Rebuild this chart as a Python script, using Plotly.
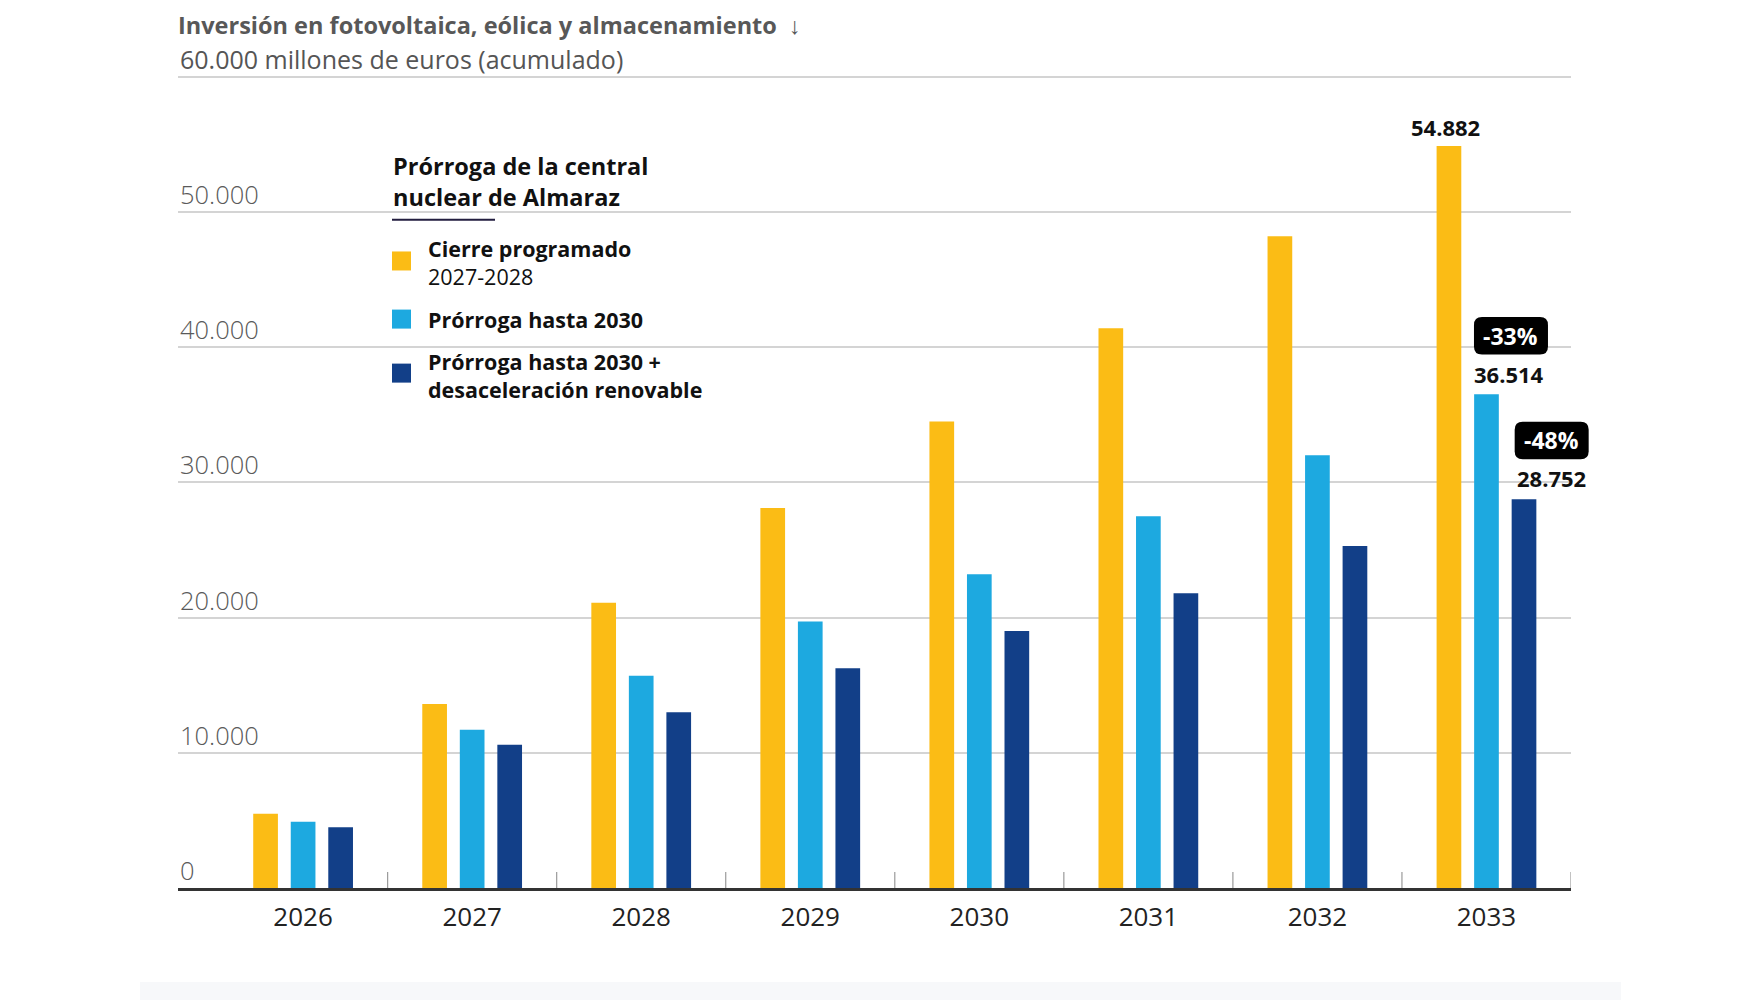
import plotly.graph_objects as go

# ---------------- data ----------------
years = ["2026", "2027", "2028", "2029", "2030", "2031", "2032", "2033"]
cierre = [5500, 13600, 21100, 28100, 34500, 41400, 48200, 54882]
prorroga = [4900, 11700, 15700, 19700, 23200, 27500, 32000, 36514]
desaceleracion = [4500, 10600, 13000, 16250, 19000, 21800, 25300, 28752]

series_values = [cierre, prorroga, desaceleracion]
series_names = ["Cierre programado 2027-2028", "Prórroga hasta 2030",
                "Prórroga hasta 2030 + desaceleración renovable"]
legend_lines = [[("Cierre programado", True), ("2027-2028", False)],
                [("Prórroga hasta 2030", True)],
                [("Prórroga hasta 2030 +", True), ("desaceleración renovable", True)]]
colors = ["#FBBC15", "#1DA9E0", "#123F88"]

y_ticks = [0, 10000, 20000, 30000, 40000, 50000, 60000]
y_tick_labels = ["0", "10.000", "20.000", "30.000", "40.000", "50.000",
                 "60.000 millones de euros (acumulado)"]

title_text = "Inversión en fotovoltaica, eólica y almacenamiento"
legend_title = ["Prórroga de la central", "nuclear de Almaraz"]

# ---------------- geometry (screen pixels, page body has an 8px margin) ----------------
OFF = 8
W, H = 1742, 992
Y_RANGE = [0, 60200]
X_RANGE = [-0.74, 7.5]
PH = 811 * Y_RANGE[1] / 60000
L, R, B = 170, 179, 112
T = H - B - PH
PW = W - L - R
PB = T + PH


def px_x(px):
    return (px - OFF - L) / PW


def px_y(py):
    return (PB - (py - OFF)) / PH


def cat_paper(i):
    return (i - X_RANGE[0]) / (X_RANGE[1] - X_RANGE[0])


def fmt(v):
    return f"{v:,}".replace(",", ".")


fig = go.Figure()
for name, vals, col in zip(series_names, series_values, colors):
    fig.add_trace(go.Bar(x=years, y=vals, name=name, marker_color=col,
                         marker_line_width=0, showlegend=False,
                         hovertemplate="%{x}: %{y:,}<extra></extra>"))

shapes = []
annotations = []

# y tick labels (above gridlines, left aligned)
for v, lab in zip(y_ticks, y_tick_labels):
    if v == y_ticks[-1]:
        font = dict(family="Open Sans", size=25, color="#555555")
    else:
        font = dict(family="Open Sans", size=25.5, color="#5a5a5a", weight=300)
    annotations.append(dict(x=0, xref="paper", xanchor="left", y=v, yref="y",
                            yanchor="middle", yshift=18, text=lab,
                            showarrow=False, font=font))

# title
annotations.append(dict(x=px_x(176), xref="paper", xanchor="left",
                        y=px_y(25), yref="paper", yanchor="middle",
                        text=f"<b>{title_text}</b>  ↓", showarrow=False,
                        font=dict(family="Open Sans", size=23.5, color="#585858")))

# white box behind legend interrupting gridlines
shapes.append(dict(type="rect", xref="paper", yref="paper",
                   x0=px_x(356), x1=px_x(756), y0=px_y(228), y1=px_y(198),
                   fillcolor="white", line_width=0, layer="between"))
shapes.append(dict(type="rect", xref="paper", yref="paper",
                   x0=px_x(340), x1=px_x(756), y0=px_y(362), y1=px_y(332),
                   fillcolor="white", line_width=0, layer="between"))

# legend title
annotations.append(dict(x=px_x(391), xref="paper", xanchor="left", align="left",
                        y=px_y(181.8), yref="paper", yanchor="middle",
                        text="<br>".join(f"<b>{s}</b>" for s in legend_title),
                        showarrow=False,
                        font=dict(family="Open Sans", size=23.5, color="#111111")))
shapes.append(dict(type="line", xref="paper", yref="paper",
                   x0=px_x(392), x1=px_x(495), y0=px_y(220), y1=px_y(220),
                   line=dict(color="#221d3f", width=2)))

# legend entries
sq_centers = [261.2, 319.3, 373.3]
text_centers = [262.7, 319.7, 375.4]
for col, lines, cy, ty in zip(colors, legend_lines, sq_centers, text_centers):
    shapes.append(dict(type="rect", xref="paper", yref="paper",
                       x0=px_x(392), x1=px_x(411), y0=px_y(cy + 9.5), y1=px_y(cy - 9.5),
                       fillcolor=col, line_width=0))
    txt = "<br>".join(f"<b>{s}</b>" if bold else s for s, bold in lines)
    annotations.append(dict(x=px_x(426), xref="paper", xanchor="left", align="left",
                            y=px_y(ty), yref="paper", yanchor="middle",
                            text=txt, showarrow=False,
                            font=dict(family="Open Sans", size=21.5, color="#111111")))

# boundary ticks
for i in range(len(years)):
    shapes.append(dict(type="line", xref="x", yref="y", x0=i + 0.5, x1=i + 0.5,
                       ysizemode="pixel", yanchor=0, y0=0, y1=16,
                       line=dict(color="#9a9a9a", width=1.2), layer="between"))

# value labels on last year (category index of last year)
last = len(years) - 1
label_offsets = [(-40.5, 19), (22.5, 20), (65, 21.5)]
for vals, (dx, dy) in zip(series_values, label_offsets):
    annotations.append(dict(x=last, xref="x", y=vals[-1], yref="y",
                            xshift=dx, yshift=dy, yanchor="middle",
                            text=f"<b>{fmt(vals[-1])}</b>", showarrow=False,
                            font=dict(family="Open Sans", size=22, color="#111111")))

# percentage badges
bw, bh, r = 74, 37.5, 8
badge_offsets = [(24.5, 58.4), (65.2, 58.8)]
for vals, (cx, cy) in zip(series_values[1:], badge_offsets):
    pct = round((vals[-1] / series_values[0][-1] - 1) * 100)
    x0, x1 = cx - bw / 2, cx + bw / 2
    y0, y1 = cy - bh / 2, cy + bh / 2
    path = (f"M {x0 + r},{y0} L {x1 - r},{y0} Q {x1},{y0} {x1},{y0 + r} "
            f"L {x1},{y1 - r} Q {x1},{y1} {x1 - r},{y1} L {x0 + r},{y1} "
            f"Q {x0},{y1} {x0},{y1 - r} L {x0},{y0 + r} Q {x0},{y0} {x0 + r},{y0} Z")
    shapes.append(dict(type="path", xref="paper", yref="y", xsizemode="pixel",
                       ysizemode="pixel", xanchor=cat_paper(last), yanchor=vals[-1],
                       path=path, fillcolor="black", line_width=0, layer="above"))
    annotations.append(dict(x=last, xref="x", y=vals[-1], yref="y",
                            xshift=cx, yshift=cy, yanchor="middle",
                            text=f"<b>{pct}%</b>", showarrow=False,
                            font=dict(family="Open Sans", size=23, color="white")))

# bottom band
shapes.append(dict(type="rect", xref="paper", yref="paper",
                   x0=px_x(140), x1=px_x(1621), y0=px_y(1000), y1=px_y(982),
                   fillcolor="#f7f8fa", line_width=0, layer="above"))

fig.update_layout(
    width=W, height=H,
    margin=dict(l=L, r=R, t=T, b=B, pad=0),
    paper_bgcolor="white", plot_bgcolor="white",
    barmode="group", bargap=0.334, bargroupgap=0.342,
    shapes=shapes, annotations=annotations,
    font=dict(family="Open Sans"),
    xaxis=dict(type="category", range=X_RANGE, showgrid=False,
               showline=True, linecolor="#333333", linewidth=2.5,
               ticks="", ticklabelstandoff=4,
               tickfont=dict(family="Open Sans", size=26, color="#222222")),
    yaxis=dict(range=Y_RANGE, tickvals=y_ticks, showticklabels=False,
               showgrid=True, gridcolor="#d4d4d4", gridwidth=1.5,
               zeroline=False, showline=False, ticks=""),
)

fig.write_html("out.html")
